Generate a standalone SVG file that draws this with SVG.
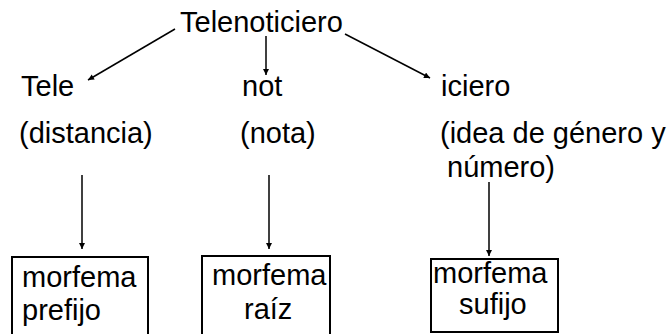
<svg xmlns="http://www.w3.org/2000/svg" width="670" height="334" viewBox="0 0 670 334">
<style>
text{font-family:"Liberation Sans",Arial,sans-serif;font-size:29px;fill:#000}
.c line{stroke:#000;stroke-width:1.5}
.box{fill:#fff;stroke:#000;stroke-width:2}
</style>
<defs>
<marker id="ah" viewBox="0 0 10 10" refX="10" refY="5" markerWidth="7" markerHeight="6" markerUnits="userSpaceOnUse" orient="auto"><path d="M0,0L10,5L0,10z" fill="#000"/></marker>
</defs>
<rect width="670" height="334" fill="#fff"/>
<g class="c">
<line x1="175" y1="29" x2="88" y2="80" marker-end="url(#ah)"/>
<line x1="266" y1="36" x2="266" y2="75" marker-end="url(#ah)"/>
<line x1="345" y1="34" x2="430" y2="78" marker-end="url(#ah)"/>
<line x1="82" y1="175" x2="82" y2="249" marker-end="url(#ah)"/>
<line x1="269" y1="175" x2="269" y2="249" marker-end="url(#ah)"/>
<line x1="489" y1="182" x2="489" y2="256" marker-end="url(#ah)"/>
</g>
<g id="root"><text x="180" y="32">Telenoticiero</text></g>
<g id="tele"><text x="21" y="96">Tele</text><text x="19" y="143">(distancia)</text></g>
<g id="not"><text x="242" y="96">not</text><text x="240" y="143">(nota)</text></g>
<g id="iciero"><text x="441" y="96">iciero</text><text x="440" y="143">(idea de género y</text><text x="447" y="177">número)</text></g>
<g id="prefijo"><rect class="box" x="12" y="257" width="136" height="80"/><text x="22" y="287">morfema</text><text x="22" y="320">prefijo</text></g>
<g id="raiz"><rect class="box" x="202" y="256" width="128" height="81" stroke-width="2.5"/><text x="212" y="285">morfema</text><text x="244" y="319">raíz</text></g>
<g id="sufijo"><rect class="box" x="431" y="259" width="127" height="73"/><text x="433" y="283">morfema</text><text x="459" y="314">sufijo</text></g>
</svg>
